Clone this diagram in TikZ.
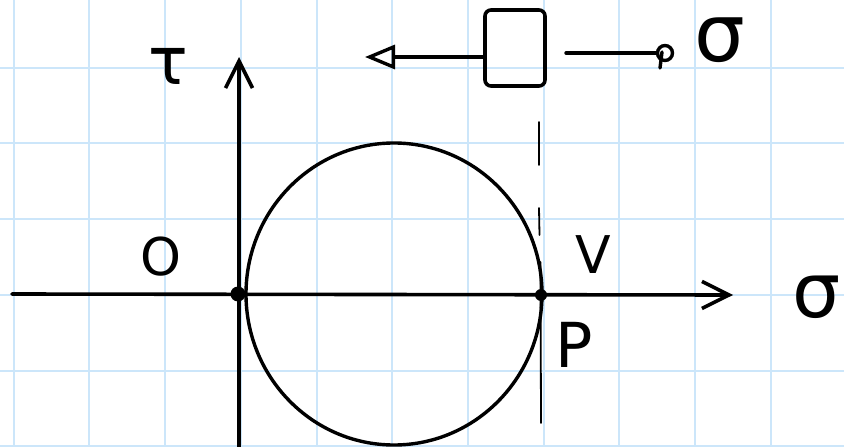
\documentclass[tikz,border=0pt]{standalone}
\usepackage{fontspec}
\setmainfont{DejaVu Sans}
\usetikzlibrary{arrows.meta}
\definecolor{gridblue}{RGB}{204,230,250}
\tikzset{
  gridline/.style={draw=gridblue, line width=2pt},
  axisline/.style={draw=black, line width=3.6pt, line cap=round, -{Straight Barb[length=27pt,width=27pt]}},
  thickline/.style={draw=black, line width=3.4pt, line cap=round},
  thinline/.style={draw=black, line width=1.8pt, line cap=round},
  lbl/.style={inner sep=0pt, text=black},
}
\begin{document}
\begin{tikzpicture}[x=1pt,y=-1pt]
\useasboundingbox (0,0) rectangle (844,447);
\fill[white] (0,0) rectangle (844,447);
% grid
\foreach \k in {0,...,10} {
  \draw[gridline] ({13.7+75.7*\k},0) -- ({13.7+75.7*\k},447);
}
\foreach \k in {0,...,5} {
  \draw[gridline] (0,{67.7+75.7*\k}) -- (844,{67.7+75.7*\k});
}
% coordinates
\coordinate (xstart) at (12,294);
\coordinate (xend) at (733,295);
\coordinate (ystart) at (239,447);
\coordinate (yend) at (239,57);
\coordinate (O) at (238,294);
\coordinate (P) at (541,295);
% Mohr circle
\draw[thickline] (394,294) ellipse [x radius=148, y radius=151];
% axes
\draw[axisline] (xstart) -- (xend);
\draw[axisline] (ystart) -- (yend);
% dots
\fill (O) circle (7.5);
\fill (P) circle (6);
% thin vertical line through P
\draw[thinline] (539,122) -- (539,165);
\draw[thinline] (539,208) -- (539.5,235);
\draw[thinline] (540.5,262) -- (541,423);
% labels
\node[lbl, font=\fontsize{66}{66}\selectfont] (tau) at (168,66) {τ};
\node[lbl, font=\fontsize{52}{52}\selectfont] (Olbl) at (161,257) {O};
\node[lbl, font=\fontsize{52}{52}\selectfont] (Vlbl) at (593,255) {V};
\node[lbl, font=\fontsize{62}{62}\selectfont] (Plbl) at (574,345) {P};
\node[lbl, font=\fontsize{76}{76}\selectfont, anchor=east] (sigx) at (841,297) {σ};
\node[lbl, font=\fontsize{80}{80}\selectfont] (sigtop) at (720,40) {σ};
% element box
\node[draw=black, line width=3.6pt, rounded corners=6pt, minimum width=60pt, minimum height=76pt, inner sep=0pt] (box) at (515,48) {};
\coordinate (lefttip) at (365,57);
\draw[thickline, -{Triangle[open,length=30pt,width=24pt]}] ([yshift=-9pt]box.west) -- (lefttip);
\node[draw=black, circle, line width=3.4pt, minimum size=15pt, inner sep=0pt] (knob) at (665,53) {};
\coordinate (rstart) at (566,53);
\draw[thickline] (rstart) -- (knob.west);
\draw[thickline] (662,52) -- (660,68);
\end{tikzpicture}
\end{document}
